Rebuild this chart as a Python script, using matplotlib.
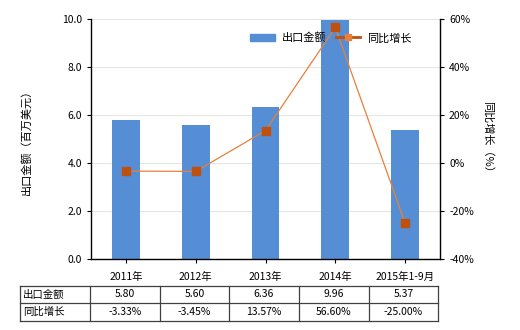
import matplotlib
matplotlib.use("Agg")
import matplotlib.pyplot as plt
from matplotlib.lines import Line2D
from matplotlib.ticker import FuncFormatter, MultipleLocator

plt.rcParams['font.family'] = ['Noto Sans CJK SC', 'DejaVu Sans']

categories = ["2011年", "2012年", "2013年", "2014年", "2015年1-9月"]
export_values = [5.80, 5.60, 6.36, 9.96, 5.37]
growth_pct = [-3.33, -3.45, 13.57, 56.60, -25.00]
row_labels = ["出口金额", "同比增长"]

W, H = 520, 330
fig = plt.figure(figsize=(W / 100, H / 100), dpi=100)
L, R, T, B = 91, 440, 19.3, 259
ax = fig.add_axes([L / W, 1 - B / H, (R - L) / W, (B - T) / H])
x = list(range(len(categories)))

bar_color = "#558ED5"
ax.bar(x, export_values, width=0.4, color=bar_color, zorder=2, label="出口金额")
ax.set_xlim(-0.5, len(categories) - 0.5)
ax.set_ylim(0, 10)
ax.yaxis.set_major_locator(MultipleLocator(2))
ax.yaxis.set_major_formatter(FuncFormatter(lambda v, p: f"{v:.1f}"))
ax.grid(axis="y", color="#e6e6e0", lw=0.8, zorder=0)
ax.set_xticks(x)
ax.set_xticklabels(categories)
ax.tick_params(axis="both", labelsize=7.5, length=3, width=0.8, colors="black")
ax.tick_params(axis="x", pad=6)
for s in ["top", "right"]:
    ax.spines[s].set_visible(False)
ax.spines["left"].set_linewidth(1)
ax.spines["bottom"].set_linewidth(1)
ax.set_ylabel("出口金额（百万美元）", fontsize=8, labelpad=22)

ax2 = ax.twinx()
ax2.plot(x, growth_pct, color="#E8803A", lw=0.9, marker="s", ms=5.5,
         mfc="#C0500E", mec="#C0500E", zorder=3, label="同比增长")
ax2.set_ylim(-40, 60)
ax2.yaxis.set_major_locator(MultipleLocator(20))
ax2.yaxis.set_major_formatter(FuncFormatter(lambda v, p: f"{int(v)}%"))
ax2.tick_params(axis="y", labelsize=7.5, length=3, width=0.8)
for s in ["top", "left", "bottom"]:
    ax2.spines[s].set_visible(False)
ax2.spines["right"].set_linewidth(1)
ax2.set_ylabel("同比增长（%）", fontsize=8, rotation=-90, labelpad=14)

# legend
handles = [plt.Rectangle((0, 0), 1, 1, color=bar_color),
           Line2D([0], [0], color="#C0500E", lw=2, marker="s", ms=4,
                  mfc="#E8803A", mec="#E8803A")]
fig.legend(handles, ["出口金额", "同比增长"], loc="center",
           bbox_to_anchor=(331 / W, 1 - 38 / H), ncol=2, frameon=False,
           fontsize=8, handlelength=2.2, columnspacing=0.9, handletextpad=0.6)

# table
col_x = [20, 90, 160, 229, 299, 369, 438]
row_y = [285.7, 303, 321]
lc = "#404040"
for yy in row_y:
    fig.add_artist(Line2D([col_x[0] / W, col_x[-1] / W], [1 - yy / H, 1 - yy / H],
                          color=lc, lw=0.9))
for xx in col_x:
    fig.add_artist(Line2D([xx / W, xx / W], [1 - row_y[0] / H, 1 - row_y[-1] / H],
                          color=lc, lw=0.9))
rows = [[f"{v:.2f}" for v in export_values], [f"{v:.2f}%" for v in growth_pct]]
for r in range(2):
    yc = 1 - (row_y[r] + row_y[r + 1]) / 2 / H
    fig.text((col_x[0] + 3) / W, yc, row_labels[r], fontsize=7.5, va="center", ha="left")
    for c in range(len(categories)):
        xc = (col_x[c + 1] + col_x[c + 2]) / 2 / W
        fig.text(xc, yc, rows[r][c], fontsize=7.5, va="center", ha="center")

fig.savefig("out.png", dpi=100)
